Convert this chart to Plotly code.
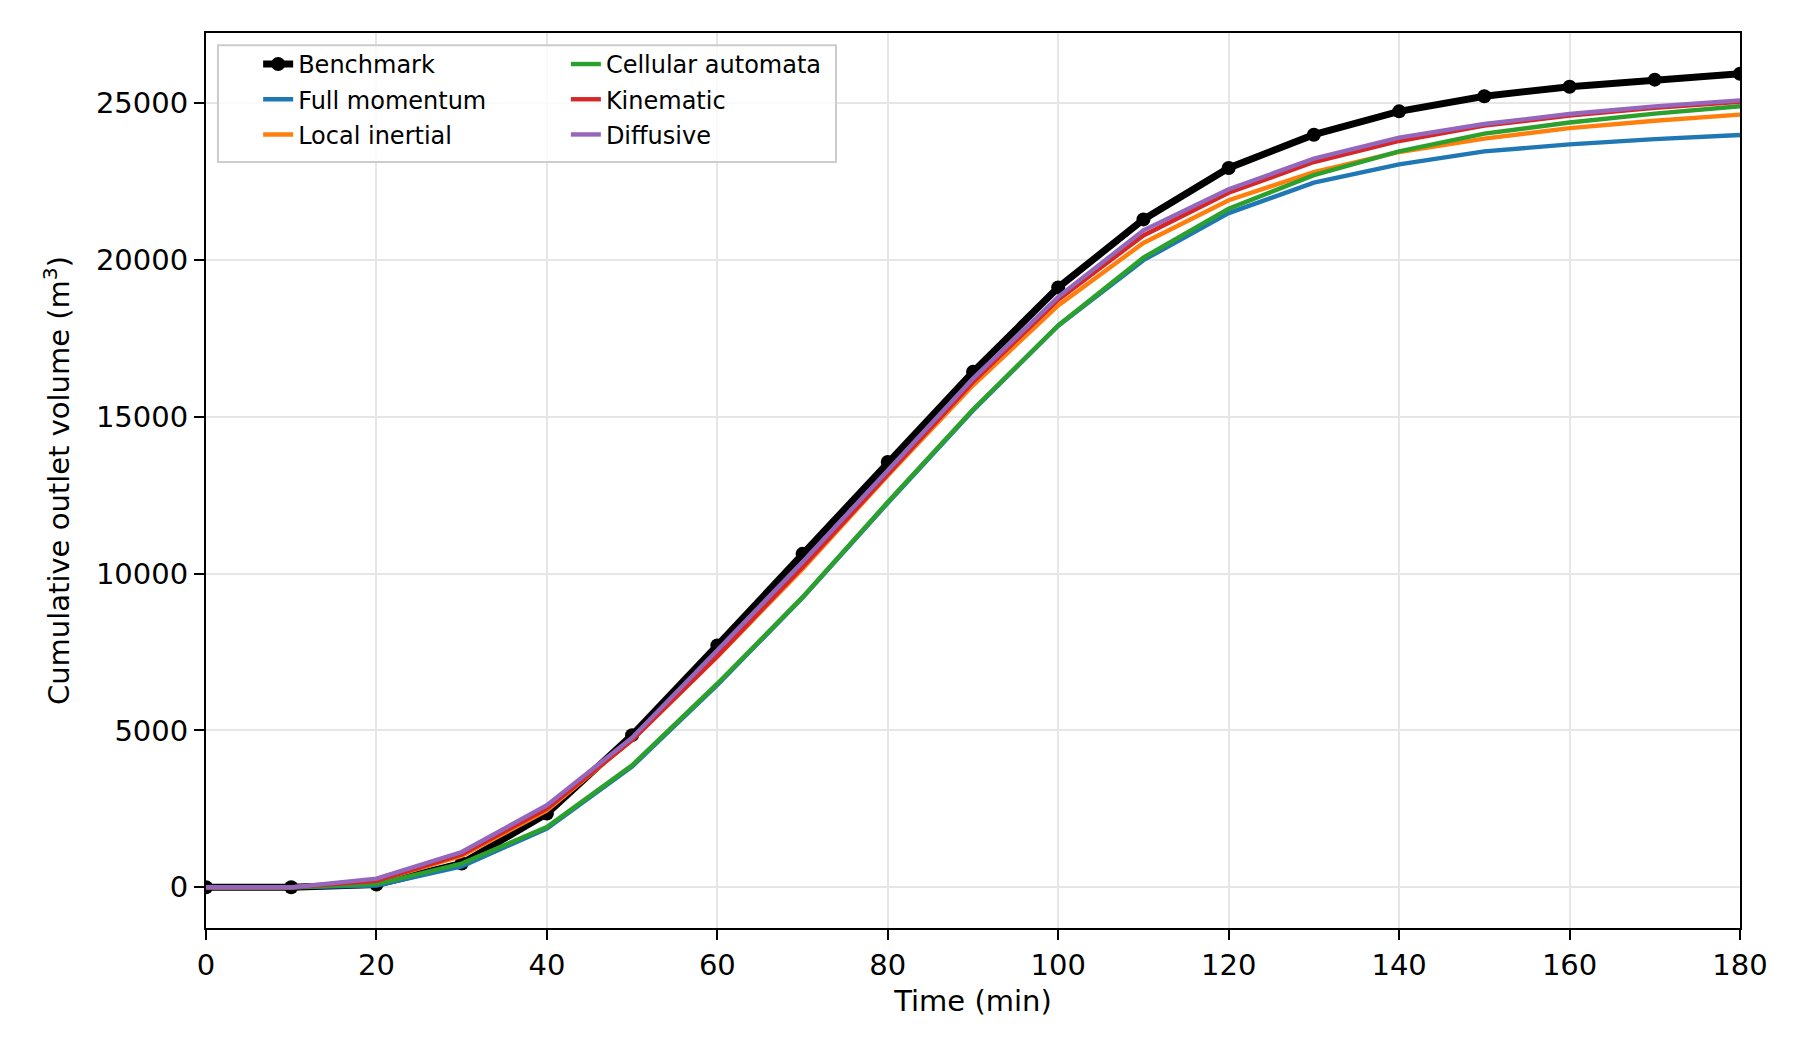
import plotly.graph_objects as go

# cumulative outlet volume (m3) every 10 minutes
time_min = [0, 10, 20, 30, 40, 50, 60, 70, 80, 90, 100, 110, 120, 130, 140, 150, 160, 170, 180]
benchmark = [0, 0, 90, 760, 2350, 4850, 7710, 10630, 13560, 16430, 19120, 21290, 22930,
             23990, 24735, 25215, 25520, 25745, 25935]
full_momentum = [0, 0, 60, 670, 1870, 3850, 6450, 9230, 12250, 15200, 17900, 19990, 21490,
                 22460, 23045, 23460, 23680, 23850, 23980]
local_inertial = [0, 0, 200, 1000, 2450, 4700, 7350, 10150, 13130, 16000, 18550, 20540, 21900,
                  22800, 23440, 23865, 24200, 24435, 24630]
cellular_automata = [0, 0, 100, 755, 1920, 3890, 6490, 9250, 12280, 15230, 17910, 20070, 21630,
                     22700, 23460, 24025, 24380, 24660, 24895]
kinematic = [0, 0, 210, 1050, 2510, 4690, 7370, 10210, 13165, 16110, 18730, 20780, 22140,
             23120, 23790, 24280, 24600, 24850, 25040]
diffusive = [0, 0, 275, 1125, 2615, 4770, 7555, 10370, 13290, 16215, 18820, 20940, 22250,
             23225, 23895, 24330, 24650, 24893, 25086]

models = [
    ('Full momentum', full_momentum, '#1f77b4', 'legend'),
    ('Local inertial', local_inertial, '#ff7f0e', 'legend'),
    ('Cellular automata', cellular_automata, '#2ca02c', 'legend2'),
    ('Kinematic', kinematic, '#d62728', 'legend2'),
    ('Diffusive', diffusive, '#9467bd', 'legend2'),
]

FONT = 'DejaVu Sans'


def main():
    fig = go.Figure()
    fig.add_trace(go.Scatter(
        x=time_min, y=benchmark, mode='lines+markers', name='Benchmark',
        line=dict(color='black', width=7), marker=dict(size=14, color='black'),
        legend='legend', legendgroup='bm',
    ))
    for name, vals, color, leg in models:
        fig.add_trace(go.Scatter(
            x=time_min, y=vals, mode='lines', name=name,
            line=dict(color=color, width=4.4), legend=leg, legendgroup=name,
        ))

    top = max(benchmark)
    axis_common = dict(
        showline=True, linecolor='black', linewidth=2, mirror=True,
        ticks='outside', ticklen=10, tickwidth=2, tickcolor='black',
        showgrid=True, gridcolor='#e6e6e6', gridwidth=1.5, zeroline=False,
        tickfont=dict(family=FONT, size=29, color='black'),
    )
    legend_common = dict(
        xanchor='left', yanchor='top', bgcolor='rgba(0,0,0,0)',
        font=dict(family=FONT, size=24, color='black'),
        tracegroupgap=1, itemwidth=30,
    )

    fig.update_layout(
        width=1801, height=1056,
        margin=dict(l=206, r=61, t=33, b=128),
        paper_bgcolor='white', plot_bgcolor='white',
        font=dict(family=FONT, color='black'),
        xaxis=dict(axis_common, range=[0, 180], dtick=20,
                   title=dict(text='Time (min)', font=dict(family=FONT, size=29), standoff=10)),
        yaxis=dict(axis_common, range=[-0.05 * top, 1.05 * top], dtick=5000, tickformat='d',
                   title=dict(text='Cumulative outlet volume (m<sup>3</sup>)',
                              font=dict(family=FONT, size=29), standoff=18)),
        legend=dict(legend_common, x=0.034, y=0.99),
        legend2=dict(legend_common, x=0.2346, y=0.99),
        shapes=[dict(type='rect', xref='paper', yref='paper', x0=0.0078, x1=0.4107,
                     y0=0.8559, y1=0.9863, layer='above',
                     line=dict(color='#cccccc', width=2), fillcolor='rgba(255,255,255,0.8)')],
    )
    fig.write_html('out.html', config={'displayModeBar': False},
                   post_script="document.body.style.margin='0';")


if __name__ == '__main__':
    main()
